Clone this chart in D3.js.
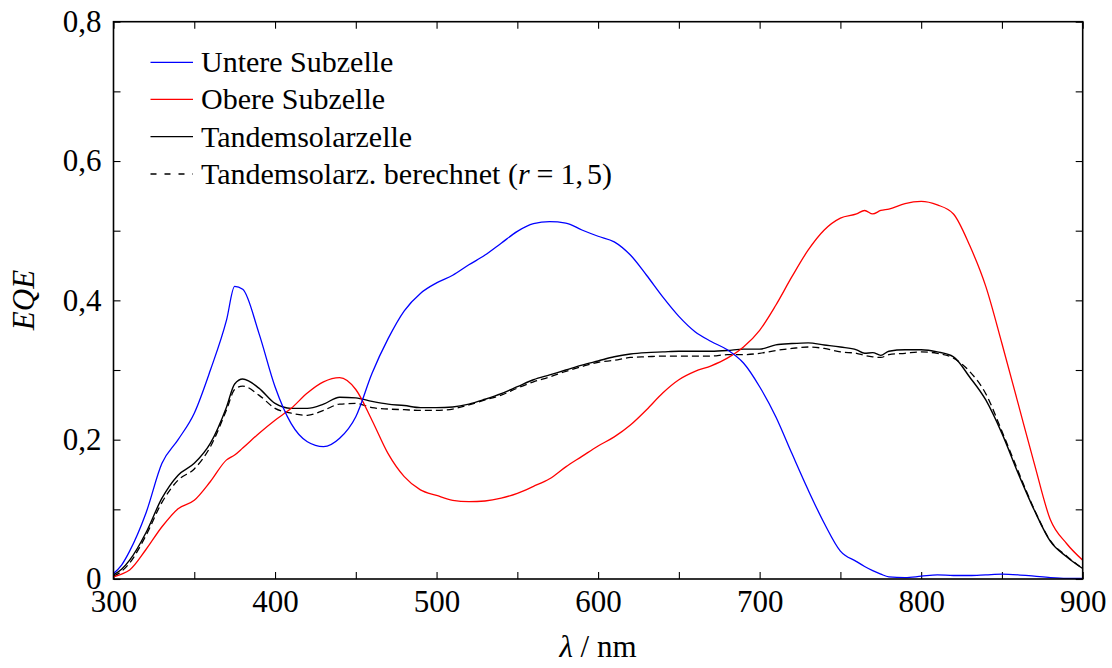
<!DOCTYPE html>
<html>
<head>
<meta charset="utf-8">
<script src="https://cdn.jsdelivr.net/npm/d3@7"></script>
<style>
  html, body { margin: 0; padding: 0; background: #fff; }
  svg { display: block; }
  text { font-family: "Liberation Serif", "Times New Roman", serif; fill: #000; }
</style>
</head>
<body>
<svg id="chart" width="1112" height="668"></svg>
<script>
const wavelengths = [300,305,310,320,330,340,350,360,370,375,380,390,400,410,420,430,440,450,460,470,480,490,500,510,520,530,540,550,560,570,580,590,600,610,620,630,640,650,660,670,680,690,700,710,720,730,740,750,760,765,770,775,780,790,800,810,820,830,840,850,860,870,880,890,900];

const untereSubzelle = [0.008,0.02,0.04,0.094,0.166,0.2,0.238,0.30,0.372,0.42,0.416,0.353,0.276,0.223,0.197,0.19,0.202,0.233,0.295,0.345,0.385,0.41,0.425,0.436,0.451,0.465,0.482,0.499,0.51,0.513,0.511,0.501,0.492,0.484,0.465,0.436,0.405,0.377,0.355,0.341,0.329,0.31,0.276,0.233,0.18,0.128,0.08,0.04,0.025,0.018,0.012,0.007,0.003,0.002,0.004,0.006,0.005,0.005,0.006,0.007,0.006,0.004,0.002,0.001,0.001];

const obereSubzelle = [0.003,0.007,0.013,0.042,0.075,0.101,0.113,0.14,0.171,0.178,0.188,0.209,0.228,0.245,0.267,0.283,0.289,0.272,0.228,0.18,0.147,0.128,0.12,0.113,0.111,0.112,0.116,0.123,0.133,0.144,0.161,0.176,0.191,0.204,0.221,0.243,0.267,0.286,0.298,0.306,0.317,0.333,0.357,0.393,0.434,0.472,0.501,0.518,0.524,0.529,0.524,0.529,0.531,0.539,0.542,0.537,0.524,0.479,0.42,0.338,0.252,0.166,0.085,0.051,0.027];

const tandemsolarzelle = [0.006,0.014,0.027,0.066,0.116,0.149,0.166,0.195,0.247,0.28,0.287,0.274,0.252,0.245,0.245,0.251,0.261,0.26,0.255,0.251,0.249,0.246,0.246,0.247,0.251,0.258,0.266,0.276,0.286,0.293,0.3,0.307,0.313,0.319,0.323,0.325,0.326,0.327,0.327,0.327,0.328,0.33,0.33,0.336,0.338,0.339,0.336,0.333,0.329,0.324,0.325,0.321,0.327,0.329,0.329,0.326,0.319,0.29,0.257,0.209,0.152,0.099,0.054,0.032,0.015];

const tandemBerechnet = [0.004,0.011,0.023,0.062,0.11,0.142,0.158,0.19,0.243,0.272,0.277,0.264,0.245,0.238,0.235,0.242,0.251,0.252,0.246,0.244,0.243,0.242,0.242,0.244,0.25,0.257,0.264,0.274,0.283,0.29,0.298,0.305,0.311,0.314,0.318,0.319,0.32,0.32,0.32,0.32,0.322,0.322,0.324,0.328,0.331,0.333,0.331,0.326,0.324,0.321,0.319,0.318,0.322,0.324,0.326,0.324,0.317,0.298,0.266,0.212,0.155,0.1,0.055,0.033,0.015];

const seriesNames = ["Untere Subzelle", "Obere Subzelle", "Tandemsolarzelle", "Tandemsolarz. berechnet"];
const xTicks = [300,350,400,450,500,550,600,650,700,750,800,850,900];
const xTickLabels = ["300","","400","","500","","600","","700","","800","","900"];
const yTicks = [0,0.1,0.2,0.3,0.4,0.5,0.6,0.7,0.8];
const yTickLabels = ["0","","0,2","","0,4","","0,6","","0,8"];

const svg = d3.select("#chart");
const L = 113.5, R = 1082.7, T = 21.7, B = 579;
const x = d3.scaleLinear().domain([300, 900]).range([L, R]);
const y = d3.scaleLinear().domain([0, 0.8]).range([B, T]);

const tickFont = "31px";

// axes
const xb = svg.append("g").attr("transform", `translate(0,${B})`)
  .call(d3.axisBottom(x).tickValues(xTicks).tickSize(-7).tickPadding(11)
    .tickFormat((d, i) => xTickLabels[i]));
const xt = svg.append("g").attr("transform", `translate(0,${T})`)
  .call(d3.axisTop(x).tickValues(xTicks).tickSize(-7).tickFormat(""));
const yl = svg.append("g").attr("transform", `translate(${L},0)`)
  .call(d3.axisLeft(y).tickValues(yTicks).tickSize(-7).tickPadding(12)
    .tickFormat((d, i) => yTickLabels[i]));
const yr = svg.append("g").attr("transform", `translate(${R},0)`)
  .call(d3.axisRight(y).tickValues(yTicks).tickSize(-7).tickFormat(""));

[xb, xt, yl, yr].forEach(g => {
  g.select(".domain").remove();
  g.selectAll(".tick line").attr("stroke", "#000").attr("stroke-width", 1.1);
  g.selectAll(".tick text").style("font-size", tickFont)
    .style("font-family", '"Liberation Serif", "Times New Roman", serif').attr("fill", "#000");
});
yl.selectAll(".tick text").attr("dy", "0.32em");

// lines
const data = wavelengths.map((w, i) => ({w, u: untereSubzelle[i], o: obereSubzelle[i], t: tandemsolarzelle[i], b: tandemBerechnet[i]}));
const mk = key => d3.line().x(d => x(d.w)).y(d => y(d[key])).curve(d3.curveMonotoneX);

const clip = svg.append("clipPath").attr("id", "clip").append("rect")
  .attr("x", L).attr("y", T).attr("width", R - L).attr("height", B - T);
const plot = svg.append("g").attr("clip-path", "url(#clip)");

plot.append("path").datum(data).attr("d", mk("b")).attr("fill", "none")
  .attr("stroke", "#000").attr("stroke-width", 1.3).attr("stroke-dasharray", "7,4");
plot.append("path").datum(data).attr("d", mk("t")).attr("fill", "none")
  .attr("stroke", "#000").attr("stroke-width", 1.4);
plot.append("path").datum(data).attr("d", mk("o")).attr("fill", "none")
  .attr("stroke", "#ff0000").attr("stroke-width", 1.3);
plot.append("path").datum(data).attr("d", mk("u")).attr("fill", "none")
  .attr("stroke", "#0000ff").attr("stroke-width", 1.3);

// frame
svg.append("rect").attr("x", L).attr("y", T).attr("width", R - L).attr("height", B - T)
  .attr("fill", "none").attr("stroke", "#000").attr("stroke-width", 1.6);

// legend
const legendItems = [
  {name: seriesNames[0], color: "#0000ff", dash: null},
  {name: seriesNames[1], color: "#ff0000", dash: null},
  {name: seriesNames[2], color: "#000", dash: null},
  {name: seriesNames[3], color: "#000", dash: "6,8"}
];
const legY = [62.3, 99.3, 136.7, 174];
const lg = svg.append("g");
legendItems.forEach((it, i) => {
  lg.append("line").attr("x1", 150.5).attr("x2", 193).attr("y1", legY[i]).attr("y2", legY[i])
    .attr("stroke", it.color).attr("stroke-width", 1.3)
    .attr("stroke-dasharray", it.dash);
  const t = lg.append("text").attr("x", 201).attr("y", legY[i] + 10).style("font-size", "30px");
  if (i < 3) {
    t.text(it.name);
  } else {
    t.append("tspan").text(it.name + " (");
    t.append("tspan").style("font-style", "italic").text("r");
    t.append("tspan").attr("dx", 7).text("=");
    t.append("tspan").attr("dx", 7).text("1,");
    t.append("tspan").attr("dx", 4).text("5)");
  }
});

// axis titles
svg.append("text").attr("transform", "translate(34,300) rotate(-90)")
  .attr("text-anchor", "middle").style("font-size", "31px").style("font-style", "italic").text("EQE");
const xl = svg.append("text").attr("x", 598).attr("y", 657).attr("text-anchor", "middle").style("font-size", "31px");
xl.append("tspan").style("font-style", "italic").text("λ");
xl.append("tspan").text(" / nm");
</script>
</body>
</html>
